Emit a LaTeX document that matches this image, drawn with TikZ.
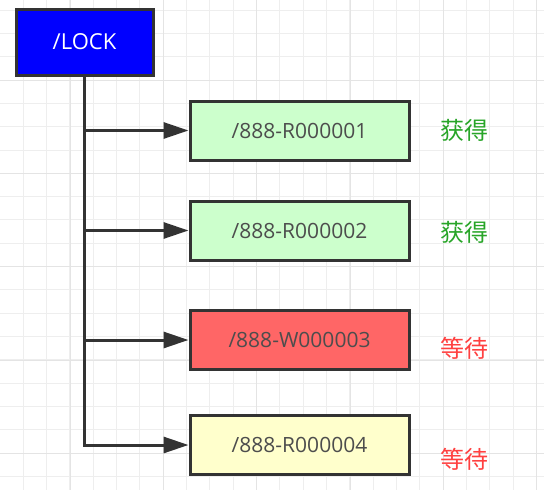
\documentclass[tikz,border=0pt]{standalone}
\usepackage{fontspec}
\setmainfont{Open Sans}
\newfontfamily\cjk{Noto Sans CJK SC}
\usetikzlibrary{arrows.meta}

\definecolor{lockblue}{RGB}{0,0,255}
\definecolor{okgreen}{RGB}{204,255,204}
\definecolor{waitred}{RGB}{255,102,102}
\definecolor{waityellow}{RGB}{255,255,204}
\definecolor{edgegray}{RGB}{51,51,51}
\definecolor{textgray}{RGB}{77,77,77}
\definecolor{gotgreen}{RGB}{40,165,40}
\definecolor{waittext}{RGB}{255,64,64}
\definecolor{minorgrid}{RGB}{238,238,238}
\definecolor{majorgrid}{RGB}{228,228,228}

\tikzset{
    zknode/.style={rectangle, draw=edgegray, line width=3pt, minimum width=219pt, minimum height=59pt,
        inner sep=0pt, text=textgray, font=\fontsize{21}{25}\selectfont},
    state/.style={inner sep=0pt, font=\cjk\fontsize{24}{27}\selectfont},
    link/.style={draw=edgegray, line width=3pt, -{Triangle[length=25pt,width=16pt]}}
}

\begin{document}
\begin{tikzpicture}[x=1pt, y=-1pt]
    \useasboundingbox (0,0) rectangle (544,490);
    \fill[white] (0,0) rectangle (544,490);

    % grid
    \foreach \k in {0,...,20}
        \draw[minorgrid, line width=1pt] (0,10+\k*23.333) -- (544,10+\k*23.333);
    \foreach \k in {1,...,23}
        \draw[minorgrid, line width=1pt] (\k*23.333,0) -- (\k*23.333,490);
    \foreach \k in {0,...,4}
        \draw[majorgrid, line width=1pt] (0,80+\k*93.333) -- (544,80+\k*93.333);
    \foreach \k in {0,...,5}
        \draw[majorgrid, line width=1pt] (70+\k*93.333,0) -- (70+\k*93.333,490);

    \node[rectangle, draw=edgegray, line width=3pt, fill=lockblue, minimum width=137pt, minimum height=66pt,
        text=white, font=\fontsize{22}{26}\selectfont] (lock) at (84.5,42) {/LOCK};

    \begin{scope}[every node/.style={zknode}]
        \node[fill=okgreen] (r1) at (299.5,130.5) {/888-R000001};
        \node[fill=okgreen] (r2) at (299.5,230.5) {/888-R000002};
        \node[fill=waitred] (w3) at (299.5,340) {/888-W000003};
        \node[fill=waityellow] (r4) at (299.5,445) {/888-R000004};
    \end{scope}

    \begin{scope}[every node/.style={state}]
        \node[text=gotgreen] (s1) at (464,130) {获得};
        \node[text=gotgreen] (s2) at (464,232) {获得};
        \node[text=waittext] (s3) at (464,348) {等待};
        \node[text=waittext] (s4) at (464,459) {等待};
    \end{scope}

    \draw[link] (lock.south) |- (r1.west);
    \draw[link] (lock.south) |- (r2.west);
    \draw[link] (lock.south) |- (w3.west);
    \draw[link] (lock.south) |- (r4.west);
\end{tikzpicture}
\end{document}
